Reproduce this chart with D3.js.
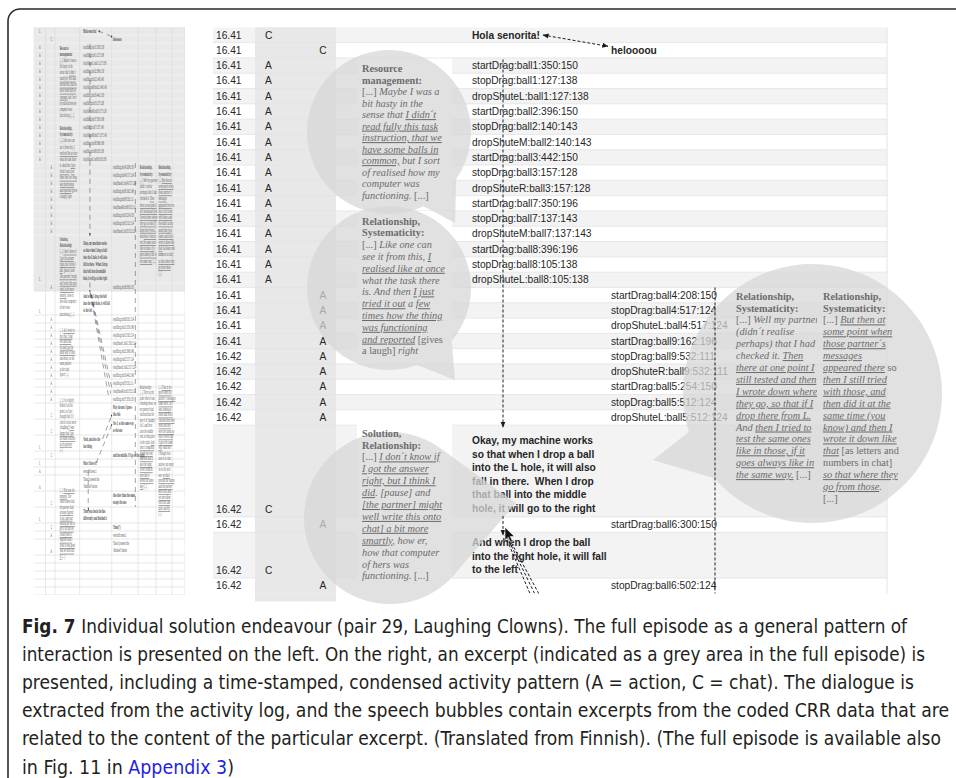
<!DOCTYPE html>
<html>
<head>
<meta charset="utf-8">
<script src="https://cdn.jsdelivr.net/npm/d3@7"></script>
<style>
body { margin: 0; background: #fff; }
svg { display: block; }
text { white-space: pre; }
</style>
</head>
<body>
<svg id="fig" width="956" height="778"></svg>
<script>
// ---- excerpt: time-stamped activity log ----
var rowTimes = ["16.41","16.41","16.41","16.41","16.41","16.41","16.41","16.41","16.41","16.41",
  "16.41","16.41","16.41","16.41","16.41","16.41","16.41","16.41","16.41","16.41","16.41",
  "16.42","16.42","16.42","16.42","16.42","16.42","16.42","16.42","16.42"];
var rowCodes = ["C","C","A","A","A","A","A","A","A","A","A","A","A","A","A","A","A",
  "A","A","A","A","A","A","A","A","A","C","A","C","A"];
var rowWho = [1,2,1,1,1,1,1,1,1,1,1,1,1,1,1,1,1,2,2,2,2,2,2,2,2,2,1,2,1,2];
var rowSpan = [1,1,1,1,1,1,1,1,1,1,1,1,1,1,1,1,1,1,1,1,1,1,1,1,1,1,6,1,3,1];
var rowTexts = [
  "Hola senorita!", "heloooou",
  "startDrag:ball1:350:150", "stopDrag:ball1:127:138", "dropShuteL:ball1:127:138",
  "startDrag:ball2:396:150", "stopDrag:ball2:140:143", "dropShuteM:ball2:140:143",
  "startDrag:ball3:442:150", "stopDrag:ball3:157:128", "dropShuteR:ball3:157:128",
  "startDrag:ball7:350:196", "stopDrag:ball7:137:143", "dropShuteM:ball7:137:143",
  "startDrag:ball8:396:196", "stopDrag:ball8:105:138", "dropShuteL:ball8:105:138",
  "startDrag:ball4:208:150", "stopDrag:ball4:517:124", "dropShuteL:ball4:517:124",
  "startDrag:ball9:162:196", "stopDrag:ball9:532:111", "dropShuteR:ball9:532:111",
  "startDrag:ball5:254:150", "stopDrag:ball5:512:124", "dropShuteL:ball5:512:124",
  "Okay, my machine works|so that when I drop a ball|into the L hole, it will also|fall in there.  When I drop|that ball into the middle|hole, it will go to the right",
  "startDrag:ball6:300:150",
  "And when I drop the ball|into the right hole, it will fall|to the left",
  "stopDrag:ball6:502:124"
];

// rest of the episode (only in the small overview on the left)
var restCodes = ["A","A","A","A","A","A","A","A","A","A","C","C","C","C","C","A","A","C","C","C","A","A","","","","",""];
var restWho = [2,2,2,2,2,2,2,2,2,2,2,2,1,2,1,1,1,2,1,2,2,2,0,0,0,0,0];
var restSpan = [1,1,1,1,1,1,1,1,1,1,2,2,2,1,1,1,2,2,2,1,1,2,1,1,1,1,1];
var restTexts = [
  "startDrag:ball1:350:196","stopDrag:ball1:502:124","dropShuteL:ball1:502:124",
  "startDrag:ball2:396:196","stopDrag:ball2:517:124","dropShuteL:ball2:517:124",
  "startDrag:ball3:442:196","stopDrag:ball3:532:111","dropShuteR:ball3:532:111",
  "startDrag:ball7:350:150",
  "Play the next I guess|like this", "Yes I, so the same way|as the one",
  "Yeah, and also the|last thing", "and the middle, I'll go to the right",
  "Must I have it?", "switchScreen:1", "Then I pressed the|'finished' button",
  "the other than the same|except the one", "Then you check the line|differently and finished it",
  "Time(?)", "switchScreen:1", "Then I pressed the|'finished' button",
  "","","","",""
];

// ---- speech bubbles (coded CRR excerpts); _x_ = underlined, ^x^ = upright ----
var resourceHead = ["Resource", "management:"];
var resourceNote = ["^[...]^ Maybe I was a", "bit hasty in the", "sense that _I didn´t_",
  "_read fully this task_", "_instruction, that we_", "_have some balls in_",
  "_common,_ but I sort", "of realised how my", "computer was", "functioning. ^[...]^"];
var systemHead = ["Relationship,", "Systematicity:"];
var systemNote = ["^[...]^ Like one can", "see it from this, _I_", "_realised like at once_",
  "what the task there", "is. And then _I just_", "_tried it out_ a _few_",
  "_times how the thing_", "_was functioning_", "_and reported_ ^[gives^", "^a laugh]^ right"];
var solutionHead = ["Solution,", "Relationship:"];
var solutionNote = ["^[...]^ _I don´t know if_", "_I got the answer_", "_right, but I think I_",
  "_did_. [pause] and", "_[the partner] might_", "_well write this onto_", "_chat] a bit more_",
  "_smartly_, how er,", "how that computer", "of hers was", "functioning. ^[...]^"];
var partnerHead = ["Relationship,", "Systematicity:"];
var partnerNoteA = ["^[...]^ Well my partner", "(didn´t realise", "perhaps) that I had",
  "checked it. _Then_", "_there at one point I_", "_still tested and then_", "_I wrote down where_",
  "_they go, so that if I_", "_drop there from L._", "And _then I tried to_", "_test the same ones_",
  "_like in those, if it_", "_goes always like in_", "_the same way._ ^[...]^"];
var partnerNoteB = ["^[...]^ _But then at_", "_some point when_", "_those partner´s_", "_messages_",
  "_appeared there_ ^so^", "_then I still tried_", "_with those, and_", "_then did it at the_",
  "_same time (you_", "_know) and then I_", "_wrote it down like_", "_that_ ^[as letters and^",
  "^numbers in chat]^", "_so that where they_", "_go from those_.", "^[...]^"];

// later bubbles, only visible in the overview
var laterNoteA = ["^[...]^ _As I wrote in_", "_the chat, I had_", "_this idea that_", "_the balls go the_",
  "_same way in both_", "machines, so the", "same pattern", "in the chat", "figure ^[...]^"];
var laterNoteB = ["^[...]^ I´ve slightly", "tested it at this", "point, so I just", "thought that I´ll",
  "check it once more", "^[laughing]^ _I was_", "_happy that I got_", "_the same solution_",
  "_as the partner_", "^[...]^"];
var laterNoteC = ["^[...]^ _That was the_", "_moment._ The", "video shows that", "the partner had",
  "_already figured_", "_it out, and was_", "_waiting for me to_", "_get it so that we_",
  "_could finish it_", "_together and I_", "_think it was good_", "_that we both did_", "_it._ ^[...]^"];
var laterNoteD = ["Relationship:", "^[...]^ There at the", "point when I was", "checking these, so",
  "my partner had", "realised that the", "way it is ^[laughs]^", "So I, and then", "also the middle",
  "one, so that goes", "to the right. _And_", "_then I compared_", "_it with my own_",
  "_machine and it_", "_was the same,_", "_so we could be_", "_sure that it_", "_works the same_",
  "_way_ ^[...]^"];
var laterNoteE = ["^[...]^ _That is the_", "_point when the_", "_partner´s messages_", "_came there, so I_",
  "_was looking at_", "_those and then I_", "_checked them with_", "_mine and they_",
  "_were the same, so_", "_then I wrote that_", "_it goes the same_", "_way._ And then",
  "I thought that", "now it is clear", "and we can move", "on to the next", "one, _so that I_",
  "_pressed the button_", "_and the partner_", "_did it too, and_", "_we were done_",
  "_with this task_", "_quite quickly._", "^[...]^"];

// ---- caption ----
var captionLabel = "Fig. 7";
var captionLines = [
  "Individual solution endeavour (pair 29, Laughing Clowns). The full episode as a general pattern of",
  "interaction is presented on the left. On the right, an excerpt (indicated as a grey area in the full episode) is",
  "presented, including a time-stamped, condensed activity pattern (A = action, C = chat). The dialogue is",
  "extracted from the activity log, and the speech bubbles contain excerpts from the coded CRR data that are",
  "related to the content of the particular excerpt. (Translated from Finnish). (The full episode is available also",
  "in Fig. 11 in "
];
var captionLink = "Appendix 3";

// ------------------------------------------------------------------
var svg = d3.select('#fig');
var unit = 15.3, tableTop = 27.35;

function buildRows(times, codes, who, texts, spans, start) {
  var acc = start;
  return texts.map(function(t, i) {
    var r = { time: times ? times[i] : null, code: codes[i], who: who[i], lines: t ? t.split('|') : [], u0: acc };
    acc += spans[i];
    r.u1 = acc;
    return r;
  });
}
var rows = buildRows(rowTimes, rowCodes, rowWho, rowTexts, rowSpan, 0);
var excerptUnits = rows[rows.length - 1].u1;
var rest = buildRows(null, restCodes, restWho, restTexts, restSpan, excerptUnits);
var allRows = rows.concat(rest);
var totalUnits = rest[rest.length - 1].u1;

var y = d3.scaleLinear().domain([0, totalUnits]).range([tableTop, tableTop + totalUnits * unit]);
var colEdge = d3.scaleOrdinal().domain(['time','code1','code2','note','p1','p2','notes','end'])
  .range([213, 255, 296, 336, 455, 605, 728, 887]);
var colText = d3.scaleOrdinal().domain(['time','code1','code2','note','p1','p2','notesA','notesB'])
  .range([216, 265, 323, 362, 472, 611, 736, 823]);

var defs = svg.append('defs');
defs.append('marker').attr('id', 'arr').attr('viewBox', '0 0 8 8').attr('refX', 7.5).attr('refY', 4)
  .attr('markerWidth', 6).attr('markerHeight', 6).attr('markerUnits', 'userSpaceOnUse')
  .attr('orient', 'auto-start-reverse')
  .append('path').attr('d', 'M0,0.6L8,4L0,7.4Z').attr('fill', '#1a1a1a');
defs.append('clipPath').attr('id', 'tableClip').append('rect')
  .attr('x', colEdge('time')).attr('y', y(0)).attr('width', colEdge('end') - colEdge('time') + 3)
  .attr('height', y(excerptUnits) - y(0));
defs.append('clipPath').attr('id', 'noteClip').append('rect')
  .attr('x', colText('notesA') - 6).attr('y', 250).attr('width', 87).attr('height', 300);
defs.append('clipPath').attr('id', 'thumbClip').append('rect')
  .attr('x', 240).attr('y', y(0)).attr('width', 707).attr('height', y(totalUnits) - y(0));

// frame
svg.append('rect').attr('x', 8).attr('y', 9).attr('width', 1100).attr('height', 1100).attr('rx', 12)
  .attr('fill', 'none').attr('stroke', '#2a2a2a').attr('stroke-width', 1.6);

function richLine(t, str) {
  str.split(/(_[^_]+_|\^[^\^]+\^)/).forEach(function(tok) {
    if (!tok) return;
    var s = t.append('tspan');
    if (tok[0] === '_') s.text(tok.slice(1, -1)).style('font-style', 'italic').style('text-decoration', 'underline');
    else if (tok[0] === '^') s.text(tok.slice(1, -1)).style('font-style', 'normal');
    else s.text(tok).style('font-style', 'italic');
  });
}

function drawNote(g, x, y0, lh, head, lines) {
  head.map(function(h) { return { t: h, head: true }; })
    .concat(lines.map(function(l) { return { t: l }; }))
    .forEach(function(d, i) {
      var t = g.append('text').attr('x', x).attr('y', y0 + i * lh).attr('dy', '0.35em');
      if (d.head) t.attr('font-weight', 'bold').text(d.t);
      else richLine(t, d.t);
    });
}

function drawRowTexts(g, list, showTime) {
  list.forEach(function(r) {
    if (!r.who) return;
    var yLast = y(r.u1 - 0.5);
    if (showTime) g.append('text').attr('x', colText('time')).attr('y', yLast).attr('dy', '0.35em').text(r.time);
    g.append('text').attr('x', colText(r.who === 1 ? 'code1' : 'code2')).attr('y', yLast).attr('dy', '0.35em')
      .attr('text-anchor', r.who === 1 ? 'start' : 'middle').text(r.code);
    var n = r.lines.length;
    r.lines.forEach(function(line, k) {
      var ly = n === 1 ? y(r.u0 + 0.5) : y(r.u1) - 8.6 - (n - 1 - k) * 13.5;
      var t = g.append('text').attr('x', colText(r.who === 1 ? 'p1' : 'p2')).attr('y', ly).attr('dy', '0.35em')
        .attr('font-weight', r.code === 'C' ? 'bold' : 'normal').text(line);
      if (!r.node) r.node = t.node();
    });
  });
}

// ---- excerpt table ----
var main = svg.append('g').attr('clip-path', 'url(#tableClip)');
main.selectAll('rect.stripe').data(rows).enter().append('rect')
  .attr('x', colEdge('time')).attr('width', colEdge('end') - colEdge('time'))
  .attr('y', function(d) { return y(d.u0); })
  .attr('height', function(d) { return y(d.u1) - y(d.u0); })
  .attr('fill', function(d, i) { return i % 2 ? '#ffffff' : '#f3f3f3'; });
svg.insert('rect', 'g').attr('x', colEdge('code1')).attr('y', y(0))
  .attr('width', colEdge('note') - colEdge('code1')).attr('height', y(excerptUnits) - y(0) + 8)
  .attr('fill', '#e8e8e8');
main.append('rect').attr('x', colEdge('code1')).attr('y', y(0))
  .attr('width', colEdge('note') - colEdge('code1')).attr('height', y(excerptUnits) - y(0))
  .attr('fill', '#e8e8e8');
main.selectAll('line.sep').data(rows.slice(1)).enter().append('line')
  .attr('x1', colEdge('time')).attr('x2', colEdge('end'))
  .attr('y1', function(d) { return y(d.u0); }).attr('y2', function(d) { return y(d.u0); })
  .attr('stroke', '#e2e2e2').attr('stroke-width', 0.8);
main.append('line').attr('x1', colEdge('end')).attr('x2', colEdge('end'))
  .attr('y1', y(0)).attr('y2', y(excerptUnits)).attr('stroke', '#e4e4e4');

// white text boxes of the left bubbles
var noteLayout = [
  { cx: 389, cy: 132, r: 82, tip: [455, 223], a0: 35, a1: 65, y0: 68.5, lh: 11.5, head: resourceHead, lines: resourceNote },
  { cx: 389, cy: 288, r: 82, tip: [455, 380], a0: 40, a1: 70, y0: 221, lh: 11.8, head: systemHead, lines: systemNote },
  { cx: 390, cy: 518, r: 86, tip: [516, 503], a0: -55, a1: 35, y0: 433, lh: 11.9, head: solutionHead, lines: solutionNote }
];
noteLayout.forEach(function(b) {
  main.append('rect').attr('x', colText('note') - 5).attr('width', colEdge('p1') - colText('note') + 2)
    .attr('y', b.y0 - 10).attr('height', (b.head.length + b.lines.length) * b.lh + 8).attr('fill', '#fff');
});

var mainText = main.append('g').attr('font-family', "'Liberation Sans', Arial, sans-serif")
  .attr('font-size', 10.2).attr('fill', '#262626');
drawRowTexts(mainText, rows, true);

// ---- bubbles ----
var rad = Math.PI / 180;
function bubblePath(b) {
  var p = d3.path();
  p.moveTo(b.tip[0], b.tip[1]);
  p.lineTo(b.cx + b.r * Math.cos(b.a1 * rad), b.cy + b.r * Math.sin(b.a1 * rad));
  p.arc(b.cx, b.cy, b.r, b.a1 * rad, b.a0 * rad, false);
  p.closePath();
  return p.toString();
}
var bigBubble = { cx: 812.5, cy: 393.5, r: 129.5, tip: [653, 460], a0: 139, a1: 162.7 };
svg.append('g').selectAll('path').data(noteLayout.concat([bigBubble])).enter().append('path')
  .attr('d', bubblePath).attr('fill', 'rgb(214,214,214)').attr('fill-opacity', 0.74);

var notes = svg.append('g').attr('font-family', "'Liberation Serif', 'Times New Roman', serif")
  .attr('font-size', 10.3).attr('fill', '#6c6c6c');
noteLayout.forEach(function(b) { drawNote(notes, colText('note'), b.y0, b.lh, b.head, b.lines); });
drawNote(notes.append('g').attr('clip-path', 'url(#noteClip)'), colText('notesA'), 296, 11.9, partnerHead, partnerNoteA);
drawNote(notes, colText('notesB'), 296, 11.9, partnerHead, partnerNoteB);

// ---- dashed links ----
var holaEnd = colText('p1') + rows[0].node.getComputedTextLength();
var pX1 = colText('p1') + 31, pX2 = colText('p2') + 104;
var links = [
  { x1: holaEnd + 3, y1: y(0.5), x2: colText('p2') - 3, y2: y(1.5) - 4, start: true, end: true },
  { x1: pX1, y1: y(2.1), x2: pX1, y2: y(26) + 2, end: true },
  { x1: pX1, y1: y(32) - 1, x2: pX1, y2: y(33) + 3, end: true },
  { x1: pX2, y1: y(17), x2: pX2, y2: y(60) },
  { x1: pX1 + 2, y1: y(33.2), x2: colText('p2') - 20, y2: y(46.3) },
  { x1: pX1 + 4, y1: y(33.3), x2: colText('p2') - 11, y2: y(45.8) },
  { x1: pX1 + 6, y1: y(33.4), x2: colText('p2') - 4, y2: y(45.3) },
  { x1: colText('p1') + 90, y1: y(51.5), x2: colText('p2') - 4, y2: y(48.4), end: true },
  { x1: colText('p1') + 60, y1: y(54.5), x2: colText('p2') - 4, y2: y(49.6), end: true },
  { x1: pX1 - 8, y1: y(55.5), x2: pX1 - 8, y2: y(60.5), end: true }
];
function drawLinks(g, scaled) {
  g.selectAll('line.link').data(links).enter().append('line')
    .attr('x1', function(d) { return d.x1; }).attr('y1', function(d) { return d.y1; })
    .attr('x2', function(d) { return d.x2; }).attr('y2', function(d) { return d.y2; })
    .attr('stroke', scaled ? '#444' : '#1e1e1e').attr('stroke-width', scaled ? 0.5 : 1)
    .attr('vector-effect', scaled ? 'non-scaling-stroke' : null)
    .attr('stroke-dasharray', scaled ? '5,4' : '3,2')
    .attr('marker-start', function(d) { return d.start ? 'url(#arr)' : null; })
    .attr('marker-end', function(d) { return d.end ? 'url(#arr)' : null; });
}
drawLinks(svg.append('g').attr('clip-path', 'url(#tableClip)'), false);

// mouse pointer
svg.append('path').attr('transform', 'translate(' + (pX1 + 2) + ',' + (y(33) - 5) + ')')
  .attr('d', 'M0,0L0,13L3.2,10L5.6,15L7.6,14.1L5.3,9.3L9.4,9.3Z')
  .attr('fill', '#111').attr('stroke', '#fff').attr('stroke-width', 0.6);

// ---- overview of the full episode (left) ----
var tx = d3.scaleLinear().domain([240, 947]).range([33.6, 185]);
var ty = d3.scaleLinear().domain([y(0), y(totalUnits)]).range([27, 595]);
var sx = tx(1) - tx(0), sy = ty(1) - ty(0);
svg.append('rect').attr('x', tx(240)).attr('y', ty(y(0))).attr('width', tx(947) - tx(240))
  .attr('height', ty(y(rows[27].u1)) - ty(y(0))).attr('fill', '#e9e9e9');
var thumb = svg.append('g')
  .attr('transform', 'translate(' + tx(0) + ',' + ty(0) + ') scale(' + sx + ',' + sy + ')')
  .attr('clip-path', 'url(#thumbClip)');
thumb.selectAll('line.h').data(allRows.concat([{ u0: totalUnits }])).enter().append('line')
  .attr('x1', 240).attr('x2', 947)
  .attr('y1', function(d) { return y(d.u0); }).attr('y2', function(d) { return y(d.u0); })
  .attr('stroke', function(d) { return d.u0 < rows[27].u1 ? '#f6f6f6' : '#d6d6d6'; })
  .attr('stroke-width', 0.6).attr('vector-effect', 'non-scaling-stroke');
thumb.selectAll('line.v').data([296, 340, 455, 605, 728, 812, 887, 947]).enter().append('line')
  .attr('x1', function(d) { return d; }).attr('x2', function(d) { return d; })
  .attr('y1', y(0)).attr('y2', y(totalUnits))
  .attr('stroke', '#dadada').attr('stroke-width', 0.6).attr('vector-effect', 'non-scaling-stroke');
var thumbText = thumb.append('g').attr('font-family', "'Liberation Serif', serif")
  .attr('font-size', 10.2).attr('fill', '#4a4a4a');
drawRowTexts(thumbText, allRows, false);
var thumbNotes = thumb.append('g').attr('font-family', "'Liberation Serif', serif")
  .attr('font-size', 10.3).attr('fill', '#555');
noteLayout.forEach(function(b) { drawNote(thumbNotes, colText('note'), b.y0, b.lh, b.head, b.lines); });
drawNote(thumbNotes, colText('notesA'), 296, 11.9, partnerHead, partnerNoteA);
drawNote(thumbNotes, colText('notesB'), 296, 11.9, partnerHead, partnerNoteB);
drawNote(thumbNotes, colText('note'), y(37.9), 10.5, [], laterNoteA);
drawNote(thumbNotes, colText('note'), y(46.6), 10.5, [], laterNoteB);
drawNote(thumbNotes, colText('note'), y(57.9), 10.5, [], laterNoteC);
drawNote(thumbNotes, colText('notesA'), y(45), 10.5, [], laterNoteD);
drawNote(thumbNotes, colText('notesB'), y(45), 10.5, [], laterNoteE);
drawLinks(thumb, true);

// ---- caption ----
var capY = d3.scaleLinear().domain([0, captionLines.length - 1]).range([633, 773.5]);
var captionRight = [907, 925, 914, 949, 941, 234];
var cap = svg.append('g')
  .attr('font-family', "'Liberation Sans Narrow', 'DejaVu Sans Condensed', 'Roboto Condensed', sans-serif")
  .attr('font-size', 19.5).attr('fill', '#231f20');
captionLines.forEach(function(line, i) {
  var t = cap.append('text').attr('x', 22).attr('y', capY(i))
    .attr('textLength', captionRight[i] - 22).attr('lengthAdjust', 'spacingAndGlyphs');
  if (i === 0) t.append('tspan').attr('font-weight', 'bold').text(captionLabel + ' ');
  t.append('tspan').text(line);
  if (i === captionLines.length - 1) {
    t.append('tspan').attr('fill', '#1f1fe0').text(captionLink);
    t.append('tspan').text(')');
  }
});
</script>
</body>
</html>
